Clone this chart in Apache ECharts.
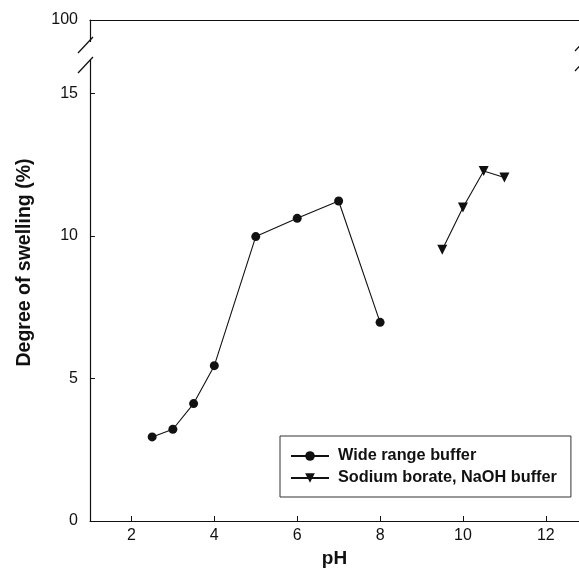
<!DOCTYPE html>
<html>
<head>
<meta charset="utf-8">
<script src="https://cdn.jsdelivr.net/npm/echarts@6/dist/echarts.min.js"></script>
<style>html,body{margin:0;padding:0;background:#fff}#chart{width:579px;height:581px}</style>
</head>
<body>
<div id="chart"></div>
<script>
// swelling vs pH, two buffer systems
var wideRangePH = [2.5, 3, 3.5, 4, 5, 6, 7, 8];
var wideRangeSwelling = [2.95, 3.22, 4.12, 5.45, 9.98, 10.62, 11.23, 6.97];
var boratePH = [9.5, 10, 10.5, 11];
var borateSwelling = [9.52, 11.0, 12.28, 12.05];
var seriesNames = ['Wide range buffer', 'Sodium borate, NaOH buffer'];
var xTicks = [2, 4, 6, 8, 10, 12];
var yTicks = [0, 5, 10, 15];
var yTopLabel = '100'; // broken axis, frame top stands for 100

var yTop = 17.58; // value where the frame top sits
var FONT = '"Liberation Sans", Arial, sans-serif';
var INK = '#111';

function pairs(xs, ys) {
    return xs.map(function (x, i) { return [x, ys[i]]; });
}

var chart = echarts.init(document.getElementById('chart'));

chart.setOption({
    animation: false,
    backgroundColor: '#fff',
    grid: {left: 90, right: 0, top: 20, bottom: 60},
    legend: {
        orient: 'vertical',
        left: 280, top: 436,
        itemWidth: 38, itemHeight: 12, itemGap: 6,
        padding: [12, 14, 11, 10],
        borderColor: '#333', borderWidth: 1,
        textStyle: {fontFamily: FONT, fontSize: 16.3, fontWeight: 'bold', color: INK, padding: [0, 0, 0, 4]},
        data: seriesNames
    },
    xAxis: [{
        type: 'value', min: 1, max: 12.8,
        name: 'pH', nameLocation: 'middle', nameGap: 28,
        nameTextStyle: {fontFamily: FONT, fontSize: 19, fontWeight: 'bold', color: INK},
        axisLine: {lineStyle: {color: INK, width: 1.2}},
        axisTick: {inside: true, length: 5, customValues: xTicks, lineStyle: {color: INK}},
        axisLabel: {customValues: xTicks, fontFamily: FONT, fontSize: 16, color: INK, margin: 7},
        splitLine: {show: false}
    }, {
        type: 'value', position: 'top', min: 1, max: 12.8,
        axisLine: {show: true, onZero: false, lineStyle: {color: INK, width: 1.2}},
        axisTick: {show: false}, axisLabel: {show: false}, splitLine: {show: false}
    }],
    yAxis: {
        type: 'value', min: 0, max: yTop,
        name: 'Degree of swelling (%)', nameLocation: 'middle', nameGap: 55,
        nameTextStyle: {fontFamily: FONT, fontSize: 19.5, fontWeight: 'bold', color: INK, padding: [0, 0, 0, 16]},
        axisLine: {show: true, lineStyle: {color: INK, width: 1.2}},
        axisTick: {inside: true, length: 5, customValues: yTicks, lineStyle: {color: INK}},
        axisLabel: {
            customValues: yTicks.concat([yTop]),
            fontFamily: FONT, fontSize: 16, color: INK, margin: 12,
            formatter: function (v) { return v === yTop ? yTopLabel : String(v); }
        },
        splitLine: {show: false}
    },
    series: [{
        name: seriesNames[0], type: 'line',
        data: pairs(wideRangePH, wideRangeSwelling),
        symbol: 'circle', symbolSize: 9,
        lineStyle: {color: INK, width: 1.1},
        itemStyle: {color: INK}
    }, {
        name: seriesNames[1], type: 'line',
        data: pairs(boratePH, borateSwelling),
        symbol: 'triangle', symbolSize: 10, symbolRotate: 180,
        lineStyle: {color: INK, width: 1.1},
        itemStyle: {color: INK}
    }],
    // break marks on both vertical frame lines
    graphic: [
        {type: 'rect', shape: {x: 85, y: 42, width: 9, height: 18}, style: {fill: '#fff'}, z: 100},
        {type: 'line', shape: {x1: 78, y1: 53, x2: 93, y2: 37}, style: {stroke: INK, lineWidth: 1.2}, z: 101},
        {type: 'line', shape: {x1: 78, y1: 73, x2: 93, y2: 57}, style: {stroke: INK, lineWidth: 1.2}, z: 101},
        {type: 'line', shape: {x1: 575, y1: 51, x2: 584, y2: 41}, style: {stroke: INK, lineWidth: 1.2}, z: 101},
        {type: 'line', shape: {x1: 575, y1: 71, x2: 584, y2: 61}, style: {stroke: INK, lineWidth: 1.2}, z: 101}
    ]
});
</script>
</body>
</html>
